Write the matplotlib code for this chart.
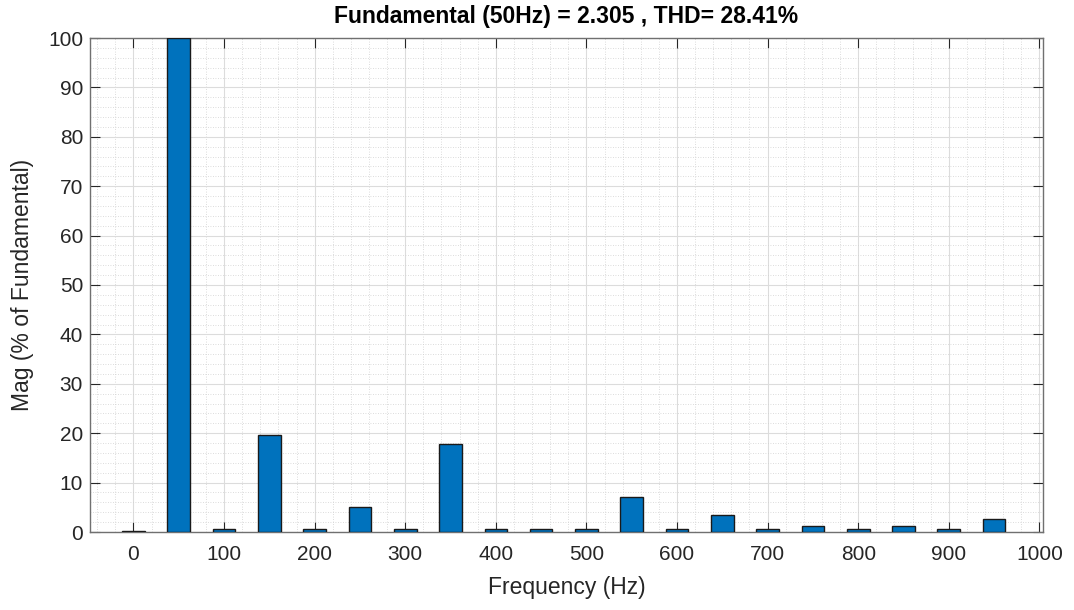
import numpy as np
import matplotlib
matplotlib.use("Agg")
import matplotlib.pyplot as plt
from matplotlib.ticker import MultipleLocator

freqs = [0, 50, 100, 150, 200, 250, 300, 350, 400, 450, 500,
         550, 600, 650, 700, 750, 800, 850, 900, 950]
mags = [0.3, 100, 0.55, 19.6, 0.55, 5.0, 0.55, 17.75, 0.55, 0.55, 0.55,
        7.1, 0.55, 3.45, 0.55, 1.15, 0.55, 1.15, 0.55, 2.6]
title = "Fundamental (50Hz) = 2.305 , THD= 28.41%"

plt.rcParams['font.family'] = ['Liberation Sans', 'DejaVu Sans']

fig = plt.figure(figsize=(10.74, 6.1), dpi=100)
ax = fig.add_axes([90/1074, 1 - 532/610, (1043-90)/1074, (532-38)/610])

ax.bar(freqs, mags, width=25, color='#0072BD', edgecolor='#1a1a1a',
       linewidth=1.0, zorder=3)

ax.set_xlim(-48, 1004)
ax.set_ylim(0, 100)
ax.xaxis.set_major_locator(MultipleLocator(100))
ax.xaxis.set_minor_locator(MultipleLocator(20))
ax.yaxis.set_major_locator(MultipleLocator(10))
ax.yaxis.set_minor_locator(MultipleLocator(2))

ax.grid(which='major', color='#dcdcdc', linewidth=0.8, zorder=0)
ax.grid(which='minor', color='#d0d0d0', linewidth=0.6, linestyle=(0, (1, 2)), zorder=0)
ax.set_axisbelow(True)

ax.tick_params(which='both', direction='in', top=True, right=True,
               colors='#262626', labelsize=15)
ax.tick_params(which='major', length=7)
ax.tick_params(axis='x', which='major', pad=9)
ax.tick_params(axis='y', which='major', pad=5)
ax.tick_params(which='minor', length=0)
for s in ax.spines.values():
    s.set_color('#707070')
    s.set_linewidth(1.0)

ax.set_xlabel("Frequency (Hz)", fontsize=16.5, color='#262626', labelpad=9)
ax.set_ylabel("Mag (% of Fundamental)", fontsize=16.5, color='#262626', labelpad=10)
ax.set_title(title, fontsize=16.5, fontweight='bold', color='black', pad=11)

fig.savefig("out.png", dpi=100)
